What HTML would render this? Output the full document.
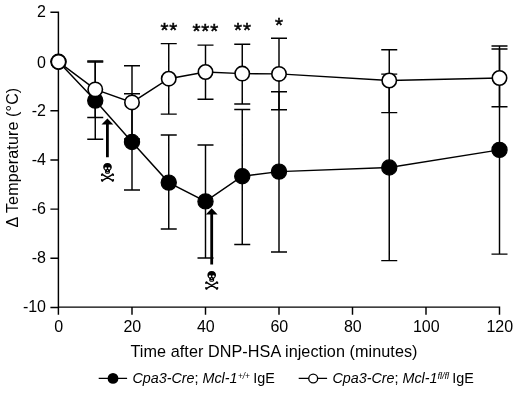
<!DOCTYPE html>
<html><head><meta charset="utf-8"><title>Temperature chart</title>
<style>
html,body{margin:0;padding:0;background:#fff;}
svg{display:block;}
text{font-family:"Liberation Sans",Arial,sans-serif;fill:#000;}
.t15{font-size:16px;}
.t16{font-size:16.2px;}
.t14{font-size:14.35px;}
.star{font-size:20.5px;stroke:#000;stroke-width:0.5px;letter-spacing:0.9px;}
</style></head><body>
<svg width="520" height="393" viewBox="0 0 520 393">
<rect width="520" height="393" fill="#fff"/>
<path d="M50.4 12.3H58.4V314.7M58.4 307.1H499.5V314.7" fill="none" stroke="#000" stroke-width="1.45"/><path d="M50.4 61.50H58.4M50.4 110.70H58.4M50.4 159.90H58.4M50.4 209.10H58.4M50.4 258.30H58.4M50.4 307.50H58.4M132.0 307.1V314.7M205.5 307.1V314.7M279.0 307.1V314.7M352.5 307.1V314.7M426.0 307.1V314.7" fill="none" stroke="#000" stroke-width="1.45"/>
<text x="46" y="17.20" text-anchor="end" class="t15">2</text><text x="46" y="68.10" text-anchor="end" class="t15">0</text><text x="46" y="116.20" text-anchor="end" class="t15">-2</text><text x="46" y="164.80" text-anchor="end" class="t15">-4</text><text x="46" y="214.00" text-anchor="end" class="t15">-6</text><text x="46" y="263.20" text-anchor="end" class="t15">-8</text><text x="46" y="312.40" text-anchor="end" class="t15">-10</text><text x="58.80" y="332.4" text-anchor="middle" class="t15">0</text><text x="132.30" y="332.4" text-anchor="middle" class="t15">20</text><text x="205.80" y="332.4" text-anchor="middle" class="t15">40</text><text x="279.30" y="332.4" text-anchor="middle" class="t15">60</text><text x="352.80" y="332.4" text-anchor="middle" class="t15">80</text><text x="426.30" y="332.4" text-anchor="middle" class="t15">100</text><text x="499.80" y="332.4" text-anchor="middle" class="t15">120</text>
<polyline points="58.5,61.8 95.25,100.6 132.0,142 168.75,182.6 205.5,201.4 242.25,176.2 279.0,171.6 389.25,167.5 499.5,149.9" fill="none" stroke="#000" stroke-width="1.45"/>
<path d="M95.25 61.9V139.2M87.25 61.9H103.25M87.25 139.2H103.25M132.0 93.7V190M124.00 93.7H140.00M124.00 190H140.00M168.75 134.9V228.9M160.75 134.9H176.75M160.75 228.9H176.75M205.5 145V258M197.50 145H213.50M197.50 258H213.50M242.25 109.4V244.5M234.25 109.4H250.25M234.25 244.5H250.25M279.0 91.8V251.9M271.00 91.8H287.00M271.00 251.9H287.00M389.25 74.1V260.6M381.25 74.1H397.25M381.25 260.6H397.25M499.5 46.05V254.1M491.50 46.05H507.50M491.50 254.1H507.50" fill="none" stroke="#000" stroke-width="1.45"/>
<circle cx="58.5" cy="61.8" r="7.6" fill="#000" stroke="#000" stroke-width="1.2"/>
<circle cx="95.25" cy="100.6" r="7.6" fill="#000" stroke="#000" stroke-width="1.2"/>
<circle cx="132.0" cy="142" r="7.6" fill="#000" stroke="#000" stroke-width="1.2"/>
<circle cx="168.75" cy="182.6" r="7.6" fill="#000" stroke="#000" stroke-width="1.2"/>
<circle cx="205.5" cy="201.4" r="7.6" fill="#000" stroke="#000" stroke-width="1.2"/>
<circle cx="242.25" cy="176.2" r="7.6" fill="#000" stroke="#000" stroke-width="1.2"/>
<circle cx="279.0" cy="171.6" r="7.6" fill="#000" stroke="#000" stroke-width="1.2"/>
<circle cx="389.25" cy="167.5" r="7.6" fill="#000" stroke="#000" stroke-width="1.2"/>
<circle cx="499.5" cy="149.9" r="7.6" fill="#000" stroke="#000" stroke-width="1.2"/>
<polyline points="58.5,61.8 95.25,89.4 132.0,102.4 168.75,78.7 205.5,72 242.25,73.6 279.0,73.9 389.25,80.5 499.5,78" fill="none" stroke="#000" stroke-width="1.45"/>
<path d="M95.25 61.0V117.4M87.25 61.0H103.25M87.25 117.4H103.25M132.0 65.8V139M124.00 65.8H140.00M124.00 139H140.00M168.75 43.6V114.1M160.75 43.6H176.75M160.75 114.1H176.75M205.5 45.1V99.2M197.50 45.1H213.50M197.50 99.2H213.50M242.25 44.2V104M234.25 44.2H250.25M234.25 104H250.25M279.0 38.2V109.8M271.00 38.2H287.00M271.00 109.8H287.00M389.25 49.8V112.6M381.25 49.8H397.25M381.25 112.6H397.25M499.5 48.9V106.7M491.50 48.9H507.50M491.50 106.7H507.50" fill="none" stroke="#000" stroke-width="1.45"/>
<circle cx="58.5" cy="61.8" r="7.2" fill="#fff" stroke="#000" stroke-width="1.6"/>
<circle cx="95.25" cy="89.4" r="7.2" fill="#fff" stroke="#000" stroke-width="1.6"/>
<circle cx="132.0" cy="102.4" r="7.2" fill="#fff" stroke="#000" stroke-width="1.6"/>
<circle cx="168.75" cy="78.7" r="7.2" fill="#fff" stroke="#000" stroke-width="1.6"/>
<circle cx="205.5" cy="72" r="7.2" fill="#fff" stroke="#000" stroke-width="1.6"/>
<circle cx="242.25" cy="73.6" r="7.2" fill="#fff" stroke="#000" stroke-width="1.6"/>
<circle cx="279.0" cy="73.9" r="7.2" fill="#fff" stroke="#000" stroke-width="1.6"/>
<circle cx="389.25" cy="80.5" r="7.2" fill="#fff" stroke="#000" stroke-width="1.6"/>
<circle cx="499.5" cy="78" r="7.2" fill="#fff" stroke="#000" stroke-width="1.6"/>
<path d="M107.4 118.4L113.30 124.60H108.80V157.3H106.00V124.60H101.50Z" fill="#000"/>
<g transform="translate(107.5,162.9)">
<path d="M0 0C-2.9 0 -4.3 1.9 -4.3 4.2C-4.3 5.6 -3.7 6.6 -2.9 7.2C-2.5 7.6 -2.4 8 -2.4 8.6V9.6C-2.4 10.4 -1.4 10.9 0 10.9C1.4 10.9 2.4 10.4 2.4 9.6V8.6C2.4 8 2.5 7.6 2.9 7.2C3.7 6.6 4.3 5.6 4.3 4.2C4.3 1.9 2.9 0 0 0Z" fill="#000"/>
<circle cx="-1.7" cy="5.4" r="1.15" fill="#fff"/><circle cx="1.7" cy="5.4" r="1.15" fill="#fff"/>
<path d="M0 6.9L-0.6 8.2H0.6Z" fill="#fff"/>
<path d="M-1.3 9.5H1.3" stroke="#fff" stroke-width="0.6"/>
<path d="M-4.9 11.8L4.9 17.4M4.9 11.8L-4.9 17.4" stroke="#000" stroke-width="1.5" stroke-linecap="round"/>
<circle cx="-5.2" cy="11.2" r="0.95"/><circle cx="-5.7" cy="12.1" r="0.95"/>
<circle cx="5.2" cy="11.2" r="0.95"/><circle cx="5.7" cy="12.1" r="0.95"/>
<circle cx="-5.2" cy="18" r="0.95"/><circle cx="-5.7" cy="17.1" r="0.95"/>
<circle cx="5.2" cy="18" r="0.95"/><circle cx="5.7" cy="17.1" r="0.95"/>
</g>
<path d="M211.7 208.2L217.60 214.40H213.10V264.6H210.30V214.40H205.80Z" fill="#000"/>
<g transform="translate(211.7,270.9)">
<path d="M0 0C-2.9 0 -4.3 1.9 -4.3 4.2C-4.3 5.6 -3.7 6.6 -2.9 7.2C-2.5 7.6 -2.4 8 -2.4 8.6V9.6C-2.4 10.4 -1.4 10.9 0 10.9C1.4 10.9 2.4 10.4 2.4 9.6V8.6C2.4 8 2.5 7.6 2.9 7.2C3.7 6.6 4.3 5.6 4.3 4.2C4.3 1.9 2.9 0 0 0Z" fill="#000"/>
<circle cx="-1.7" cy="5.4" r="1.15" fill="#fff"/><circle cx="1.7" cy="5.4" r="1.15" fill="#fff"/>
<path d="M0 6.9L-0.6 8.2H0.6Z" fill="#fff"/>
<path d="M-1.3 9.5H1.3" stroke="#fff" stroke-width="0.6"/>
<path d="M-4.9 11.8L4.9 17.4M4.9 11.8L-4.9 17.4" stroke="#000" stroke-width="1.5" stroke-linecap="round"/>
<circle cx="-5.2" cy="11.2" r="0.95"/><circle cx="-5.7" cy="12.1" r="0.95"/>
<circle cx="5.2" cy="11.2" r="0.95"/><circle cx="5.7" cy="12.1" r="0.95"/>
<circle cx="-5.2" cy="18" r="0.95"/><circle cx="-5.7" cy="17.1" r="0.95"/>
<circle cx="5.2" cy="18" r="0.95"/><circle cx="5.7" cy="17.1" r="0.95"/>
</g>
<text x="169.3" y="37.2" text-anchor="middle" class="star">**</text>
<text x="205.7" y="38.2" text-anchor="middle" class="star">***</text>
<text x="242.9" y="37.3" text-anchor="middle" class="star">**</text>
<text x="279.4" y="31.8" text-anchor="middle" class="star">*</text>
<text transform="translate(18.2,227.6) rotate(-90)" class="t15" id="ylab" textLength="139.8" lengthAdjust="spacing">Δ Temperature (°C)</text>
<text x="130.5" y="356.5" class="t16" id="xlab" textLength="287" lengthAdjust="spacing">Time after DNP-HSA injection (minutes)</text>
<path d="M98.7 378.4H127.1M298.7 378.4H327.1" stroke="#000" stroke-width="1.35"/>
<circle cx="113" cy="378.4" r="5.4" fill="#000"/>
<circle cx="313.2" cy="378.5" r="4.45" fill="#fff" stroke="#000" stroke-width="1.35"/>
<g class="t14">
<text x="132.4" y="383.35" font-style="italic" id="a1">Cpa3-Cre</text><text x="194.5" y="383.35">;</text>
<text x="202.5" y="383.35" font-style="italic" id="a2">Mcl-1</text>
<text x="238.0" y="378.8" font-size="8.2" font-style="italic" id="a3">+/+</text>
<text x="253.2" y="383.35" id="a4">IgE</text>
<text x="332.4" y="383.35" font-style="italic" id="b1">Cpa3-Cre</text><text x="394.5" y="383.35">;</text>
<text x="402.5" y="383.35" font-style="italic" id="b2">Mcl-1</text>
<text x="437.4" y="378.7" font-size="9.2" font-style="italic" id="b3">fl/fl</text>
<text x="452.2" y="383.35" id="b4">IgE</text>
</g>
</svg>
</body></html>
